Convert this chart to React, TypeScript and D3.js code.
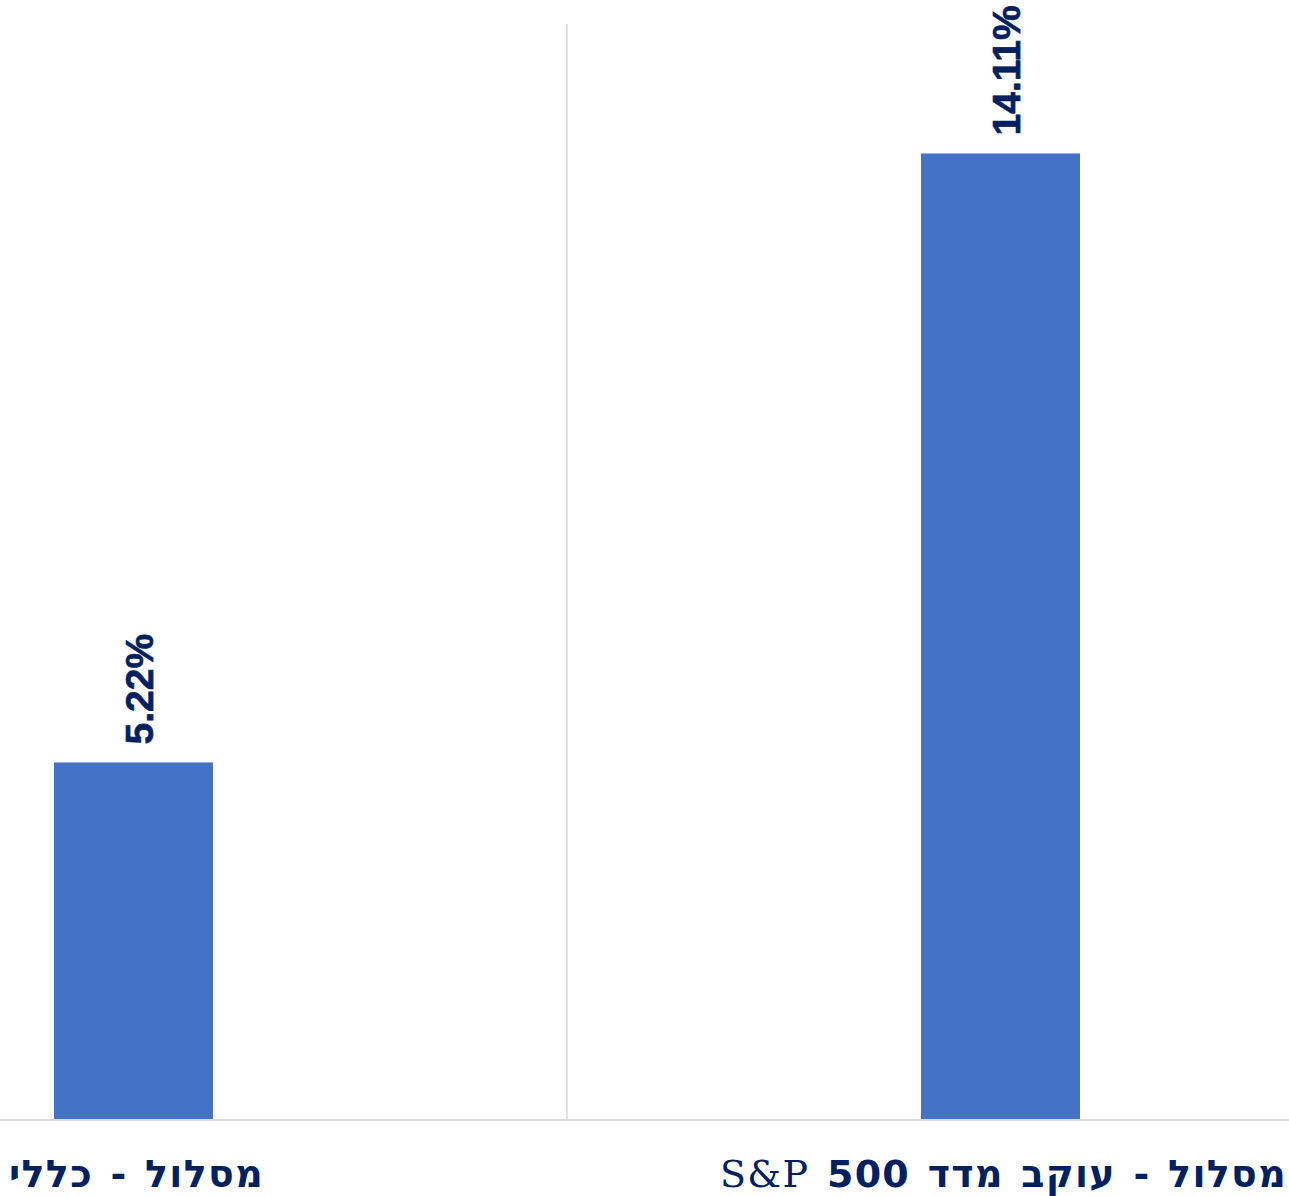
import React, { useEffect } from 'react';
import * as d3 from 'd3';

// data
const categories = ['מסלול - כללי', 'מסלול - עוקב מדד S&P 500'];
const returns = [5.22, 14.11];
const yDomain = [0, 16];

const W = 1289;
const H = 1196;
const NAVY = '#002060';
const BAR = '#4472c4';
const GRID = '#d9d9d9';

const plot = { left: -300, right: 1434, top: 24, bottom: 1120 };

export default function App() {
  useEffect(() => {
    document.body.style.margin = '0';
  }, []);

  const x = d3
    .scaleBand<string>()
    .domain(categories)
    .range([plot.left, plot.right])
    .paddingInner(0.8166)
    .paddingOuter(0.4083);

  const y = d3.scaleLinear().domain(yDomain).range([plot.bottom, plot.top]);

  // category separators sit half a step after each band centre
  const step = x.step();
  const separators = categories.slice(0, -1).map((c) => (x(c) ?? 0) + x.bandwidth() / 2 + step / 2);

  const renderLabel = (c: string) => {
    const idx = c.indexOf('S&P');
    if (idx < 0) return c;
    return (
      <>
        {c.slice(0, idx)}
        <tspan fontFamily="'DejaVu Serif', serif" fontWeight={400}>S&amp;P</tspan>
        {c.slice(idx + 3)}
      </>
    );
  };

  return (
    <svg width={W} height={H} style={{ display: 'block', background: '#fff' }}>
      {/* gridlines between categories */}
      {separators.map((sx, i) => (
        <line key={i} x1={sx} x2={sx} y1={plot.top} y2={plot.bottom} stroke={GRID} strokeWidth={1.5} />
      ))}

      {/* bars */}
      {categories.map((c, i) => (
        <rect
          key={c}
          x={x(c)}
          y={y(returns[i])}
          width={x.bandwidth()}
          height={y(0) - y(returns[i])}
          fill={BAR}
        />
      ))}

      {/* baseline */}
      <line x1={0} x2={W} y1={y(0)} y2={y(0)} stroke={GRID} strokeWidth={2} />

      {/* value labels */}
      {categories.map((c, i) => {
        const cx = (x(c) ?? 0) + x.bandwidth() / 2 + 6;
        const cy = y(returns[i]) - 18;
        return (
          <text
            key={c}
            transform={`translate(${cx},${cy}) rotate(-90)`}
            dominantBaseline="central"
            textAnchor="start"
            fill={NAVY}
            stroke={NAVY}
            strokeWidth={0.6}
            fontFamily="'Liberation Sans', Arial, sans-serif"
            fontWeight={700}
            fontSize={39}
          >
            {returns[i].toFixed(2)}%
          </text>
        );
      })}

      {/* category labels */}
      {categories.map((c) => (
        <text
          key={c}
          x={(x(c) ?? 0) + x.bandwidth() / 2 + 3}
          y={1187}
          textAnchor="middle"
          direction="rtl"
          fill={NAVY}
          fontFamily="'DejaVu Sans', sans-serif"
          fontWeight={700}
          fontSize={38}
          letterSpacing={1.3}
          wordSpacing={3}
        >
          {renderLabel(c)}
        </text>
      ))}
    </svg>
  );
}
